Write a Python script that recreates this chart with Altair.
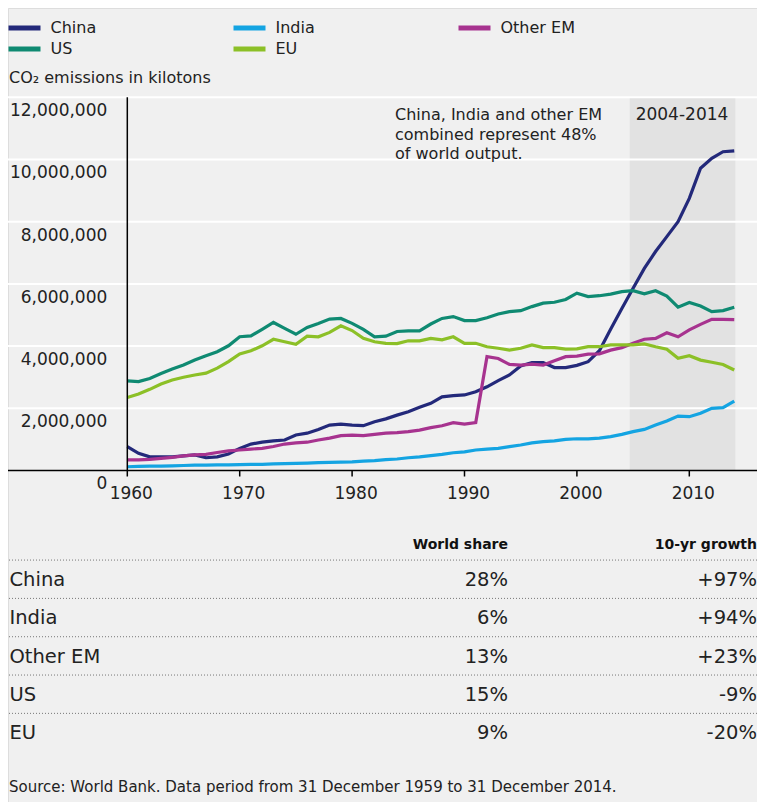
import altair as alt
import pandas as pd

# ---------------- data ----------------
years = list(range(1960, 2015))
series_names = ["China", "India", "Other EM", "US", "EU"]
series_colors = ["#23297a", "#14a4e2", "#a7338f", "#0f8a72", "#8cc027"]

# CO2 emissions, millions of kilotons
china = [0.77, 0.55, 0.44, 0.44, 0.44, 0.47, 0.50, 0.41, 0.44, 0.53,
         0.71, 0.85, 0.91, 0.95, 0.98, 1.14, 1.20, 1.32, 1.46, 1.49,
         1.46, 1.44, 1.57, 1.66, 1.78, 1.89, 2.03, 2.16, 2.37, 2.41,
         2.43, 2.53, 2.69, 2.89, 3.07, 3.36, 3.47, 3.47, 3.31, 3.31,
         3.38, 3.50, 3.85, 4.54, 5.21, 5.86, 6.50, 7.04, 7.52, 8.00,
         8.75, 9.72, 10.04, 10.25, 10.28]
india = [0.12, 0.13, 0.14, 0.14, 0.15, 0.16, 0.17, 0.17, 0.18, 0.18,
         0.19, 0.20, 0.20, 0.21, 0.22, 0.23, 0.24, 0.25, 0.26, 0.27,
         0.28, 0.30, 0.32, 0.35, 0.37, 0.41, 0.44, 0.48, 0.52, 0.57,
         0.60, 0.66, 0.69, 0.71, 0.77, 0.82, 0.89, 0.93, 0.95, 1.00,
         1.02, 1.02, 1.04, 1.09, 1.16, 1.25, 1.32, 1.46, 1.59, 1.75,
         1.73, 1.84, 2.00, 2.02, 2.23]
other_em = [0.34, 0.34, 0.36, 0.39, 0.42, 0.47, 0.50, 0.52, 0.58, 0.63,
            0.66, 0.69, 0.71, 0.77, 0.85, 0.89, 0.91, 0.98, 1.04, 1.12,
            1.14, 1.12, 1.16, 1.20, 1.22, 1.25, 1.30, 1.38, 1.44, 1.54,
            1.49, 1.54, 3.66, 3.60, 3.41, 3.39, 3.42, 3.39, 3.53, 3.66,
            3.68, 3.74, 3.75, 3.87, 3.95, 4.09, 4.22, 4.25, 4.43, 4.30,
            4.52, 4.70, 4.86, 4.86, 4.85]
us = [2.88, 2.86, 2.96, 3.12, 3.26, 3.39, 3.55, 3.69, 3.82, 4.01,
      4.30, 4.33, 4.54, 4.76, 4.57, 4.38, 4.60, 4.73, 4.87, 4.89,
      4.73, 4.54, 4.30, 4.32, 4.47, 4.49, 4.49, 4.71, 4.89, 4.95,
      4.82, 4.82, 4.91, 5.03, 5.11, 5.14, 5.27, 5.38, 5.41, 5.50,
      5.70, 5.59, 5.62, 5.67, 5.75, 5.78, 5.68, 5.78, 5.61, 5.25,
      5.40, 5.29, 5.11, 5.14, 5.25]
eu = [2.35, 2.46, 2.61, 2.78, 2.91, 3.00, 3.07, 3.13, 3.29, 3.50,
      3.75, 3.85, 4.01, 4.22, 4.14, 4.06, 4.32, 4.30, 4.44, 4.65,
      4.50, 4.25, 4.14, 4.09, 4.08, 4.17, 4.17, 4.25, 4.20, 4.30,
      4.09, 4.09, 3.98, 3.93, 3.87, 3.93, 4.04, 3.95, 3.95, 3.90,
      3.91, 3.98, 3.98, 4.04, 4.04, 4.04, 4.07, 3.98, 3.90, 3.61,
      3.69, 3.55, 3.48, 3.41, 3.23]

y_tick_values = [0, 2000000, 4000000, 6000000, 8000000, 10000000, 12000000]
y_tick_labels = ["0", "2,000,000", "4,000,000", "6,000,000", "8,000,000",
                 "10,000,000", "12,000,000"]
x_tick_values = [1960, 1970, 1980, 1990, 2000, 2010]
band_start, band_end = [2004.7], [2014.1]

table_regions = ["China", "India", "Other EM", "US", "EU"]
table_share = ["28%", "6%", "13%", "15%", "9%"]
table_growth = ["+97%", "+94%", "+23%", "-9%", "-20%"]

annotation_lines = ["China, India and other EM", "combined represent 48%", "of world output."]
band_label = "2004-2014"
subtitle = "CO\u2082 emissions in kilotons"
source = "Source: World Bank. Data period from 31 December 1959 to 31 December 2014."

# ---------------- tables ----------------
rows = []
for name, vals in zip(series_names, [china, india, other_em, us, eu]):
    for yr, v in zip(years, vals):
        rows.append({"year": yr, "series": name, "value": v * 1e6})
df = pd.DataFrame(rows)
df_ticks = pd.DataFrame({"v": y_tick_values, "label": y_tick_labels})
df_xticks = pd.DataFrame({"yr": x_tick_values, "label": [str(v) for v in x_tick_values]})
df_band = pd.DataFrame({"s": band_start, "e": band_end})
df_table = pd.DataFrame({"region": table_regions, "share": table_share,
                         "growth": table_growth, "row": list(range(len(table_regions)))})

W, H = 749, 794
FONT = "DejaVu Sans"
TXT = "#222222"
XSCALE = alt.Scale(domain=[1949.386, 2016.023], nice=False, zero=False)
YSCALE = alt.Scale(domain=[-10.659e6, 14.871e6], nice=False, zero=False)
TSCALE = alt.Scale(domain=[0, 4], range=[572, 725.3], nice=False, zero=False)


def X(field=None, datum=None):
    if field is not None:
        return alt.X(field, scale=XSCALE, axis=None)
    return alt.X(datum=datum, scale=XSCALE, axis=None)


def Y(field=None, datum=None):
    if field is not None:
        return alt.Y(field, scale=YSCALE, axis=None)
    return alt.Y(datum=datum, scale=YSCALE, axis=None)


band = alt.Chart(df_band).mark_rect(color="#e2e2e2").encode(
    x=X("s:Q"), x2="e:Q", y=Y(datum=0), y2=alt.datum(12000000))

grid = alt.Chart(df_ticks).transform_filter("datum.v > 0").mark_rule(
    color="#ffffff", strokeWidth=2).encode(y=Y("v:Q"))

lines = alt.Chart(df).mark_line(strokeWidth=3.2).encode(
    x=X("year:Q"), y=Y("value:Q"),
    color=alt.Color("series:N", sort=series_names,
                    scale=alt.Scale(domain=series_names, range=series_colors),
                    legend=alt.Legend(title=None, orient="none", legendX=-3.5, legendY=12,
                                      direction="horizontal", columns=3,
                                      symbolType="M-1,0H7", symbolSize=64,
                                      symbolStrokeWidth=5, labelFontSize=16,
                                      labelFont=FONT, labelColor=TXT,
                                      columnPadding=98, rowPadding=1,
                                      gridAlign="all", labelOffset=30, padding=0)))

# axes drawn as marks
yaxis_line = alt.Chart(df_band).mark_rule(color="#000000", strokeWidth=1.5).encode(
    x=X(datum=1960), y=Y(datum=0), y2=alt.datum(12000000))
xaxis_line = alt.Chart(df_band).mark_rule(color="#000000", strokeWidth=1.5).encode(
    y=Y(datum=0))
xticks = alt.Chart(df_xticks).mark_tick(orient="vertical", size=6, thickness=1.5,
                                        color="#000000", yOffset=3, opacity=1).encode(
    x=X("yr:Q"), y=Y(datum=0))
xlabels = alt.Chart(df_xticks).mark_text(align="center", baseline="middle", dx=4, dy=24,
                                         fontSize=17, font=FONT, color=TXT).encode(
    x=X("yr:Q"), y=Y(datum=0), text="label:N")
ylabels = alt.Chart(df_ticks).mark_text(align="right", baseline="middle", dx=-20, dy=14,
                                        fontSize=17, font=FONT, color=TXT).encode(
    x=X(datum=1960), y=Y("v:Q"), text="label:N")

annot = alt.Chart(pd.DataFrame({"t": [annotation_lines]})).mark_text(
    align="left", baseline="alphabetic", fontSize=16, font=FONT, color=TXT,
    lineHeight=19.5).encode(x=alt.value(387), y=alt.value(112), text="t")

band_txt = alt.Chart(pd.DataFrame({"t": [band_label]})).mark_text(
    align="center", baseline="alphabetic", fontSize=17, font=FONT, color=TXT).encode(
    x=alt.value(674), y=alt.value(112.2), text="t:N")

sub_txt = alt.Chart(pd.DataFrame({"t": [subtitle]})).mark_text(
    align="left", baseline="middle", fontSize=16, font=FONT, color=TXT).encode(
    x=alt.value(1), y=alt.value(69.5), text="t:N")

src_txt = alt.Chart(pd.DataFrame({"t": [source]})).mark_text(
    align="left", baseline="middle", fontSize=15, font=FONT, color=TXT).encode(
    x=alt.value(1), y=alt.value(779), text="t:N")

# table
tbase = alt.Chart(df_table)
dividers = tbase.transform_calculate(d="datum.row - 0.52").mark_rule(
    color="#777777", strokeWidth=1, strokeDash=[1, 2]).encode(
    y=alt.Y("d:Q", scale=TSCALE, axis=None))
lab_col = tbase.mark_text(align="left", baseline="middle", fontSize=19.5, font=FONT,
                          color=TXT).encode(
    x=alt.value(1.5), y=alt.Y("row:Q", scale=TSCALE, axis=None), text="region:N")
share_col = tbase.mark_text(align="right", baseline="middle", fontSize=19.5, font=FONT,
                            color=TXT).encode(
    x=alt.value(500), y=alt.Y("row:Q", scale=TSCALE, axis=None), text="share:N")
growth_col = tbase.mark_text(align="right", baseline="middle", fontSize=19.5, font=FONT,
                             color=TXT).encode(
    x=alt.value(749), y=alt.Y("row:Q", scale=TSCALE, axis=None), text="growth:N")
hdr1 = alt.Chart(pd.DataFrame({"t": ["World share"]})).mark_text(
    align="right", baseline="middle", fontSize=14, font=FONT, fontWeight="bold",
    color="#111111").encode(x=alt.value(500), y=alt.Y(datum=-0.914, scale=TSCALE, axis=None),
                            text="t:N")
hdr2 = alt.Chart(pd.DataFrame({"t": ["10-yr growth"]})).mark_text(
    align="right", baseline="middle", fontSize=14, font=FONT, fontWeight="bold",
    color="#111111").encode(x=alt.value(749), y=alt.Y(datum=-0.914, scale=TSCALE, axis=None),
                            text="t:N")
table = alt.layer(dividers, lab_col, share_col, growth_col, hdr1, hdr2)

chart = alt.layer(band, grid, lines, yaxis_line, xaxis_line, xticks, xlabels, ylabels,
                  annot, band_txt, sub_txt, src_txt, table).resolve_scale(
    y="independent").properties(
    width=W, height=H, padding=0, background="#f0f0f0",
    autosize=alt.AutoSizeParams(type="none")
).configure_view(strokeWidth=0).configure(font=FONT)

chart.save("out.html", embed_options={"renderer": "svg", "actions": False})
